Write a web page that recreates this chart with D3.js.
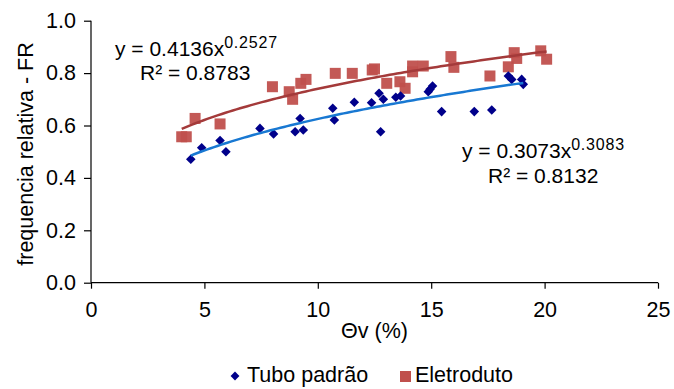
<!DOCTYPE html>
<html><head><meta charset="utf-8">
<script src="https://cdn.jsdelivr.net/npm/d3@7"></script>
<style>body{margin:0;background:#fff}svg{display:block}text{font-family:"Liberation Sans",Arial,sans-serif;fill:#000}</style>
</head><body><svg id="c" width="674" height="389"></svg>
<script>
// Tubo padrão (blue diamonds)
const tuboX = [4.40,4.88,5.69,5.95,7.45,8.05,9.00,9.22,9.36,10.66,10.73,11.61,12.37,12.70,12.77,12.89,13.44,13.65,14.87,14.95,15.06,15.46,16.90,17.67,18.40,18.55,18.99,19.06];
const tuboY = [0.471,0.515,0.543,0.500,0.589,0.568,0.576,0.627,0.583,0.666,0.621,0.689,0.687,0.723,0.576,0.700,0.708,0.713,0.729,0.738,0.751,0.653,0.653,0.659,0.789,0.776,0.776,0.757];
// Eletroduto (red squares)
const eletX = [4.00,4.20,4.59,5.69,8.00,8.74,8.89,9.25,9.48,10.77,11.52,12.40,12.50,13.04,13.62,13.85,14.18,14.18,14.65,15.87,16.00,17.59,18.40,18.66,18.77,19.83,20.09];
const eletY = [0.557,0.557,0.627,0.606,0.748,0.729,0.700,0.761,0.776,0.799,0.799,0.812,0.816,0.761,0.767,0.742,0.827,0.805,0.827,0.863,0.822,0.789,0.824,0.878,0.856,0.885,0.853];
// trendline coefficients (power fits shown on chart): [a, b]
const tuboFit = [0.3073, 0.3083];
const eletFit = [0.4136, 0.2527];
const xTicks = [0,5,10,15,20,25];
const yTicks = [0.0,0.2,0.4,0.6,0.8,1.0];
const seriesNames = ["Tubo padrão","Eletroduto"];
const eqLabels = [["y = 0.4136x","0.2527","R² = 0.8783"],["y = 0.3073x","0.3083","R² = 0.8132"]];

const svg = d3.select("#c");
const x = d3.scaleLinear().domain([0,25]).range([91,658]);
const y = d3.scaleLinear().domain([0,1]).range([282.7,20.7]);
const FS = 21.5;

// axes
const gx = svg.append("g").attr("transform","translate(0,"+y(0)+")")
  .call(d3.axisBottom(x).tickValues(xTicks).tickSize(6).tickPadding(13).tickFormat(d3.format("d")));
const gy = svg.append("g").attr("transform","translate("+x(0)+",0)")
  .call(d3.axisLeft(y).tickValues(yTicks).tickSize(7).tickPadding(8).tickFormat(d3.format(".1f")));
[gx,gy].forEach(g=>{
  g.selectAll("path").attr("stroke","#000").attr("stroke-width",1.2);
  g.selectAll("line").attr("stroke","#000").attr("stroke-width",1.2);
  g.selectAll("text").attr("font-size",FS).attr("font-family","Liberation Sans, Arial, sans-serif").attr("fill","#000");
});
gx.select(".domain").attr("d","M"+x(0)+",0H"+x(25));
gy.select(".domain").attr("d","M0,"+y(0)+"V"+y(1));

// axis titles
svg.append("text").attr("x",(x(0)+x(25))/2).attr("y",338).attr("text-anchor","middle").attr("font-size",FS).text("Θv (%)");
svg.append("text").attr("transform","translate(27,154) rotate(-90)").attr("text-anchor","middle").attr("dominant-baseline","middle").attr("font-size",FS).text("frequencia relativa - FR");

// trendlines
function trend(fit, xs, color){
  const lo = d3.min(xs), hi = d3.max(xs);
  const pts = d3.range(0,101).map(i=>{const xv = lo + (hi-lo)*i/100; return [xv, fit[0]*Math.pow(xv,fit[1])];});
  svg.append("path").datum(pts).attr("fill","none").attr("stroke",color).attr("stroke-width",2.5)
    .attr("d", d3.line().x(d=>x(d[0])).y(d=>y(d[1])));
}

// points
const tubo = tuboX.map((v,i)=>[v,tuboY[i]]);
const elet = eletX.map((v,i)=>[v,eletY[i]]);
svg.append("g").selectAll("rect").data(elet).join("rect")
  .attr("x",d=>x(d[0])-5.5).attr("y",d=>y(d[1])-5.5).attr("width",11).attr("height",11).attr("fill","#C0504D").attr("opacity",0.95);
trend(eletFit, eletX, "#A43A3A");
svg.append("g").selectAll("path").data(tubo).join("path")
  .attr("d",d3.symbol().type(d3.symbolDiamond2).size(58))
  .attr("transform",d=>"translate("+x(d[0])+","+y(d[1])+")").attr("fill","#00008B");
trend(tuboFit, tuboX, "#1878D2");

// equations
function eq(lbl, x0, yb, x1, yb2){
  const t = svg.append("text").attr("x",x0).attr("y",yb).attr("font-size",21);
  t.append("tspan").text(lbl[0]);
  t.append("tspan").attr("dy",-8).attr("font-size",16).attr("letter-spacing",0.8).text(lbl[1]);
  svg.append("text").attr("x",x1).attr("y",yb2).attr("font-size",21).text(lbl[2]);
}
eq(eqLabels[0],115,56,140,80);
eq(eqLabels[1],462,158,488,183);

// legend
const lg = svg.append("g");
lg.append("path").attr("d",d3.symbol().type(d3.symbolDiamond2).size(50)).attr("transform","translate(235,376)").attr("fill","#00008B");
lg.append("text").attr("x",247).attr("y",382).attr("font-size",FS).text(seriesNames[0]);
lg.append("rect").attr("x",400).attr("y",371).attr("width",11).attr("height",11).attr("fill","#C0504D");
lg.append("text").attr("x",415).attr("y",382).attr("font-size",FS).text(seriesNames[1]);
</script></body></html>
